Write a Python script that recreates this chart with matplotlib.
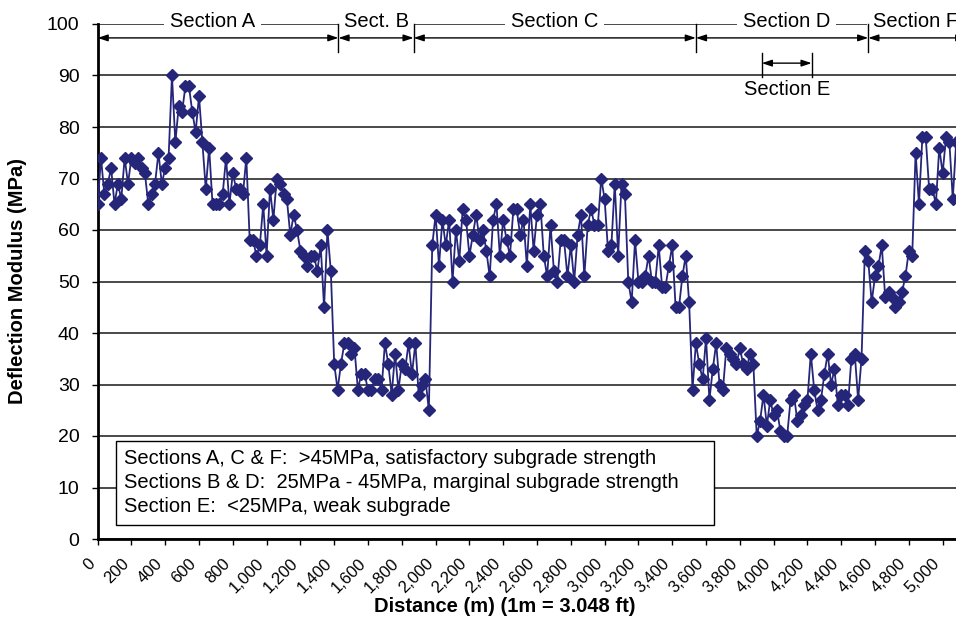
import matplotlib
matplotlib.use("Agg")
import matplotlib.pyplot as plt
from matplotlib.patches import Rectangle
from matplotlib.transforms import ScaledTranslation

plt.rcParams['font.family'] = ['Liberation Sans', 'DejaVu Sans']

# Survey stations every 20 m along the alignment
distance_m = list(range(0, 5100, 20))

# Back-calculated deflection modulus at each station (MPa)
modulus_mpa = [
    65, 74, 67, 69, 72, 65, 69, 66, 74, 69,
    74, 73, 74, 72, 71, 65, 67, 69, 75, 69,
    72, 74, 90, 77, 84, 83, 88, 88, 83, 79,
    86, 77, 68, 76, 65, 65, 65, 67, 74, 65,
    71, 68, 68, 67, 74, 58, 58, 55, 57, 65,
    55, 68, 62, 70, 69, 67, 66, 59, 63, 60,
    56, 55, 53, 55, 55, 52, 57, 45, 60, 52,
    34, 29, 34, 38, 38, 36, 37, 29, 32, 32,
    29, 29, 31, 31, 29, 38, 34, 28, 36, 29,
    34, 33, 38, 32, 38, 28, 30, 31, 25, 57,
    63, 53, 62, 57, 62, 50, 60, 54, 64, 62,
    55, 59, 63, 58, 60, 56, 51, 62, 65, 55,
    62, 58, 55, 64, 64, 59, 62, 53, 65, 56,
    63, 65, 55, 51, 61, 52, 50, 58, 58, 51,
    57, 50, 59, 63, 51, 61, 64, 61, 61, 70,
    66, 56, 57, 69, 55, 69, 67, 50, 46, 58,
    50, 50, 51, 55, 50, 50, 57, 49, 49, 53,
    57, 45, 45, 51, 55, 46, 29, 38, 34, 31,
    39, 27, 33, 38, 30, 29, 37, 36, 35, 34,
    37, 34, 33, 36, 34, 20, 23, 28, 22, 27,
    24, 25, 21, 20, 20, 27, 28, 23, 24, 26,
    27, 36, 29, 25, 27, 32, 36, 30, 33, 26,
    28, 28, 26, 35, 36, 27, 35, 56, 54, 46,
    51, 53, 57, 47, 48, 47, 45, 46, 48, 51,
    56, 55, 75, 65, 78, 78, 68, 68, 65, 76,
    71, 78, 77, 66, 77,
]

x_ticks = list(range(0, 5001, 200))
x_tick_labels = [f"{v:,}" for v in x_ticks]
y_ticks = list(range(0, 101, 10))

# Section boundaries (m) and their names
section_bounds = [0, 1425, 1870, 3540, 4560, 5140]
section_names = ["Section A", "Sect. B", "Section C", "Section D", "Section F"]
section_label_x = [680, 1650, 2705, 4075, 4590]
section_e_bounds = [3930, 4225]

legend_lines = [
    "Sections A, C & F:  >45MPa, satisfactory subgrade strength",
    "Sections B & D:  25MPa - 45MPa, marginal subgrade strength",
    "Section E:  <25MPa, weak subgrade",
]

W, H = 956, 644
FS = 14.5
fig = plt.figure(figsize=(W / 100, H / 100), dpi=100)
ax = fig.add_axes([97.6 / W, 105 / H, 859.4 / W, 515 / H])
ax.set_xlim(0, 5085)
ax.set_ylim(0, 100)

line_col = '#25257a'
ax.plot(distance_m, modulus_mpa, color=line_col, lw=1.3, marker='D',
        ms=5.8, mfc=line_col, mec=line_col, zorder=3)

# Axes styling
ax.set_axisbelow(True)
ax.yaxis.grid(True, color='#2a2a2a', lw=1.2)
for s in ['top', 'right']:
    ax.spines[s].set_visible(False)
for s in ['left', 'bottom']:
    ax.spines[s].set_linewidth(2)
    ax.spines[s].set_color('black')
ax.set_yticks(y_ticks)
ax.set_xticks(x_ticks)
ax.tick_params(axis='y', direction='out', length=4, width=1, pad=9, labelsize=14)
ax.tick_params(axis='x', direction='out', length=4, width=1, pad=12, labelsize=12)
ax.set_xticklabels(x_tick_labels, rotation=45, ha='right', va='center',
                   rotation_mode='anchor')
shift = ScaledTranslation(-5 / 100, 0, fig.dpi_scale_trans)
for lab in ax.get_xticklabels():
    lab.set_transform(lab.get_transform() + shift)

fig.text(505 / W, 1 - 607 / H, "Distance (m) (1m = 3.048 ft)", ha='center',
         va='center', fontsize=FS, fontweight='bold')
fig.text(18 / W, 1 - 281 / H, "Deflection Modulus (MPa)", ha='center',
         va='center', rotation=90, fontsize=FS, fontweight='bold')

# Section labels sitting on the top gridline
for name, xc in zip(section_names, section_label_x):
    ha = 'left' if name == "Section F" else 'center'
    ax.text(xc, 100.4, name, ha=ha, va='center', fontsize=FS, zorder=4,
            clip_on=False,
            bbox=dict(boxstyle='square,pad=0.3', fc='white', ec='none'))

arrow_kw = dict(arrowstyle='<|-|>,head_length=0.6,head_width=0.2',
                color='black', lw=1, shrinkA=0, shrinkB=0)
for x0, x1 in zip(section_bounds[:-1], section_bounds[1:]):
    ax.annotate('', xy=(x1, 97.3), xytext=(x0, 97.3), arrowprops=arrow_kw,
                annotation_clip=False, zorder=5)
for xb in section_bounds[1:-1]:
    ax.plot([xb, xb], [100, 94.6], color='black', lw=1, zorder=5, clip_on=False)

# Section E marker
for xb in section_e_bounds:
    ax.plot([xb, xb], [94.4, 89.7], color='black', lw=1, zorder=5)
ax.annotate('', xy=(section_e_bounds[1], 92.4), xytext=(section_e_bounds[0], 92.4),
            arrowprops=arrow_kw, zorder=5)
ax.text(sum(section_e_bounds) / 2, 87.3, "Section E", ha='center', va='center',
        fontsize=FS, zorder=5)

# Classification note box
ax.add_patch(Rectangle((0.0214, 0.0272), 0.6958, 0.1628, transform=ax.transAxes,
                       fc='white', ec='black', lw=1, zorder=4))
for k, txt in enumerate(legend_lines):
    ax.text(0.0307, 0.157 - k * 0.0466, txt, transform=ax.transAxes,
            ha='left', va='center', fontsize=FS, zorder=5)

fig.savefig('out.png', dpi=100)
